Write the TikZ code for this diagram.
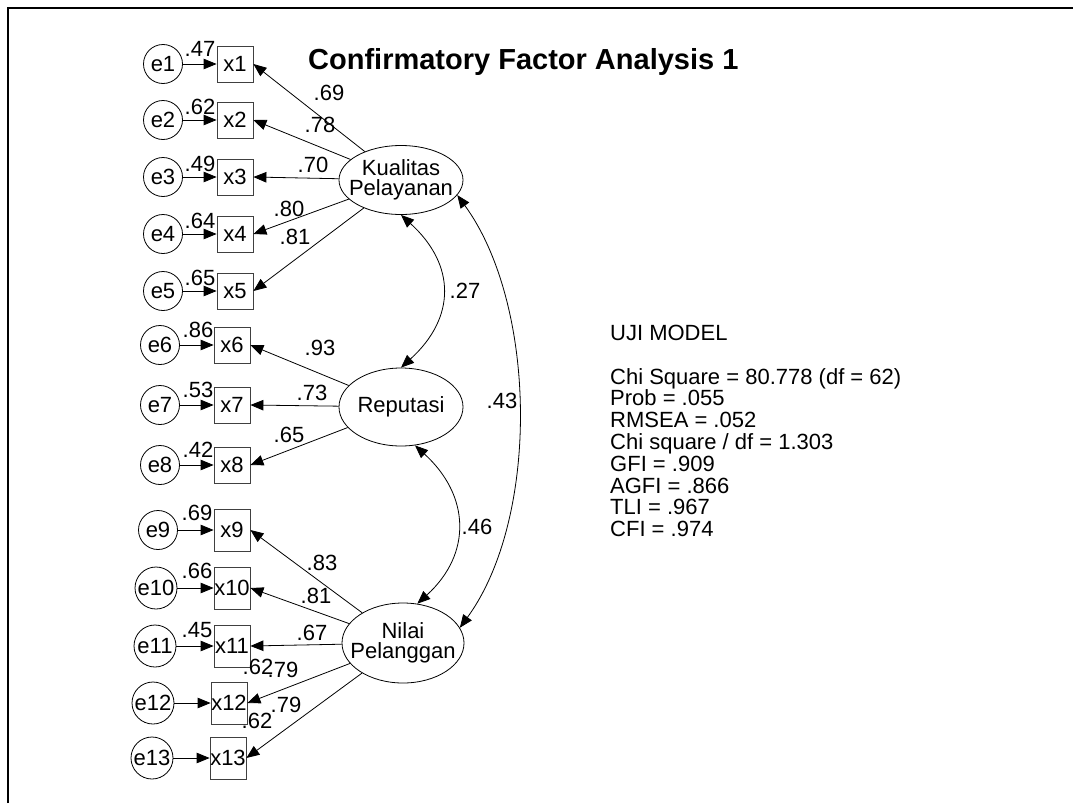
\documentclass[tikz,border=0pt]{standalone}
\usepackage{fontspec}
\setmainfont{Liberation Sans}
\usetikzlibrary{arrows.meta, shapes.geometric}

\newcommand{\amosfont}{\fontsize{22pt}{21.8pt}\selectfont}

\begin{document}
\begin{tikzpicture}[x=1pt, y=-1pt,
    every node/.style={font=\amosfont, inner sep=0pt},
    err/.style={draw, circle, line width=0.8pt, minimum size=39pt},
    errb/.style={err, minimum size=42pt},
    obs/.style={draw=black!75, line width=0.8pt, minimum width=36pt, minimum height=36pt},
    obsb/.style={obs, minimum height=42pt},
    latent/.style={draw, ellipse, line width=0.8pt, inner xsep=-14pt, minimum width=124pt, align=center, font=\fontsize{22pt}{20pt}\selectfont},
    load/.style={-{Triangle[length=13pt, width=10.5pt]}, line width=0.8pt},
    cov/.style={{Triangle[length=13pt, width=10.5pt]}-{Triangle[length=13pt, width=10.5pt]}, line width=0.8pt},
    coef/.style={font=\amosfont}
  ]
    \fill[white] (0,0) rectangle (1073,803);
    \useasboundingbox (0,0) rectangle (1073,803);
    \draw[line width=2.2pt] (8,803) -- (8,8) -- (1073,8);

    \node[font=\bfseries\fontsize{29pt}{29pt}\selectfont, anchor=base west] (title) at (308,69) {Confirmatory Factor Analysis 1};

    \node[latent, minimum height=69pt] (kp) at (401,180) {Kualitas\\Pelayanan};
    \node[latent, minimum height=78pt] (rep) at (401,407) {Reputasi};
    \node[latent, minimum width=122pt, minimum height=80pt] (np) at (403,643) {Nilai\\Pelanggan};

    \foreach \n/\y/\ex/\bx/\es/\bs in {1/64/163/235/err/obs, 2/120/163/235/err/obs, 3/177/163/235/err/obs, 4/234/163/235/err/obs, 5/291/163/235/err/obs, 6/345/160/232/err/obs, 7/405/160/232/err/obs, 8/465/160/232/err/obs, 9/530/158/232/err/obsb, 10/588/156/232/errb/obsb, 11/646/155/232/errb/obsb, 12/703/153/229/errb/obsb, 13/758/152/228/errb/obsb} {
      \node[\es] (e\n) at (\ex,\y) {e\n};
      \node[\bs] (x\n) at (\bx,\y) {x\n};
      \draw[load] (e\n) -- (x\n);
    }

    \foreach \n/\v/\lx/\ly in {1/.47/200/49, 2/.62/200/107, 3/.49/200/164, 4/.64/200/221, 5/.65/200/278, 6/.86/198/330, 7/.53/198/390, 8/.42/198/450, 9/.69/197/513, 10/.66/197/571, 11/.45/197/630, 12/.62/258/667, 13/.62/257/721} {
      \node[coef] (r\n) at (\lx,\ly) {\v};
    }

    \foreach \n/\lat/\v/\lx/\ly in {1/kp/.69/329/93, 2/kp/.78/320/125, 3/kp/.70/313/165, 4/kp/.80/289/209, 5/kp/.81/295/237, 6/rep/.93/320/348, 7/rep/.73/312/393, 8/rep/.65/289/435, 9/np/.83/322/563, 10/np/.81/316/596, 11/np/.67/312/633, 12/np/.79/283/670, 13/np/.79/286/705} {
      \draw[load] (\lat) -- (x\n.east);
      \node[coef] (l\n) at (\lx,\ly) {\v};
    }

    \draw[cov] (kp.south) .. controls +(55,50) and +(55,-50) .. (rep.north);
    \draw[cov] (rep.-70) .. controls +(55,50) and +(55,-50) .. (np.70);
    \draw[cov] (kp.-15) .. controls +(80,110) and +(80,-110) .. (np.15);
    \node[coef] (c1) at (465,291) {.27};
    \node[coef] (c2) at (477,527) {.46};
    \node[coef] (c3) at (502,401) {.43};

    \node[align=left, anchor=north west] (fit) at (610,325) {UJI MODEL\\[21.8pt]
      Chi Square = 80.778 (df = 62)\\
      Prob = .055\\
      RMSEA = .052\\
      Chi square / df = 1.303\\
      GFI = .909\\
      AGFI = .866\\
      TLI = .967\\
      CFI = .974};
\end{tikzpicture}
\end{document}
